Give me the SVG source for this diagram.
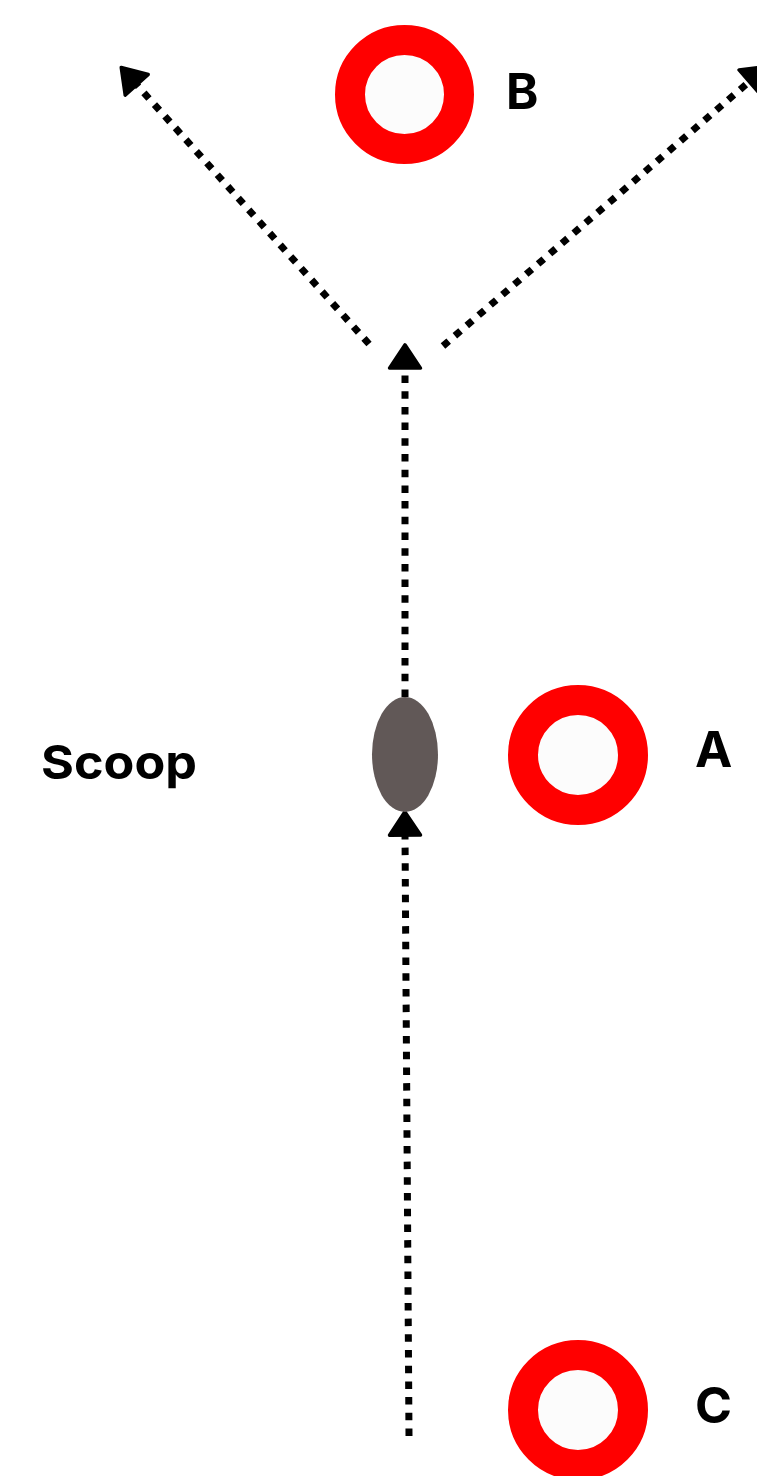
<svg xmlns="http://www.w3.org/2000/svg" width="757" height="1476" viewBox="0 0 757 1476">
<style>
.ring{fill:#fcfcfc;stroke:#ff0000;stroke-width:30}
.lbl{font-family:Inter,"Liberation Sans",sans-serif;font-weight:700;fill:#000}
.dot{fill:none;stroke:#000;stroke-width:7;stroke-dasharray:7.5 8.2}
</style>
<defs>
<marker id="ah" markerUnits="userSpaceOnUse" markerWidth="40" markerHeight="40" viewBox="-2 -18 28 36" refX="1" refY="0" orient="auto">
<path d="M0,-14 L21,0 L0,14 Z" fill="#000" stroke="#000" stroke-width="3" stroke-linejoin="round"/>
</marker>
</defs>
<rect width="757" height="1476" fill="#fff"/>
<g id="connectors">
<line class="dot" x1="409" y1="1436" x2="405" y2="834" marker-end="url(#ah)"/>
<line class="dot" x1="405" y1="697" x2="405" y2="367" marker-end="url(#ah)"/>
<line class="dot" x1="369" y1="344" x2="136" y2="84" marker-end="url(#ah)"/>
<line class="dot" x1="443" y1="346" x2="750" y2="81" marker-end="url(#ah)"/>
</g>
<g id="B">
<circle class="ring" cx="404.5" cy="94.5" r="54.5"/>
<text class="lbl" x="506" y="109" font-size="49">B</text>
</g>
<g id="A">
<circle class="ring" cx="578" cy="755" r="55"/>
<text class="lbl" x="695" y="767" font-size="50">A</text>
</g>
<g id="C">
<circle class="ring" cx="578" cy="1410" r="55"/>
<text class="lbl" x="695" y="1423" font-size="50">C</text>
</g>
<g id="scoop">
<ellipse cx="405" cy="754.5" rx="33" ry="57.5" fill="#615857"/>
<text class="lbl" x="41" y="779" font-size="47" textLength="156" lengthAdjust="spacingAndGlyphs">Scoop</text>
</g>
</svg>
